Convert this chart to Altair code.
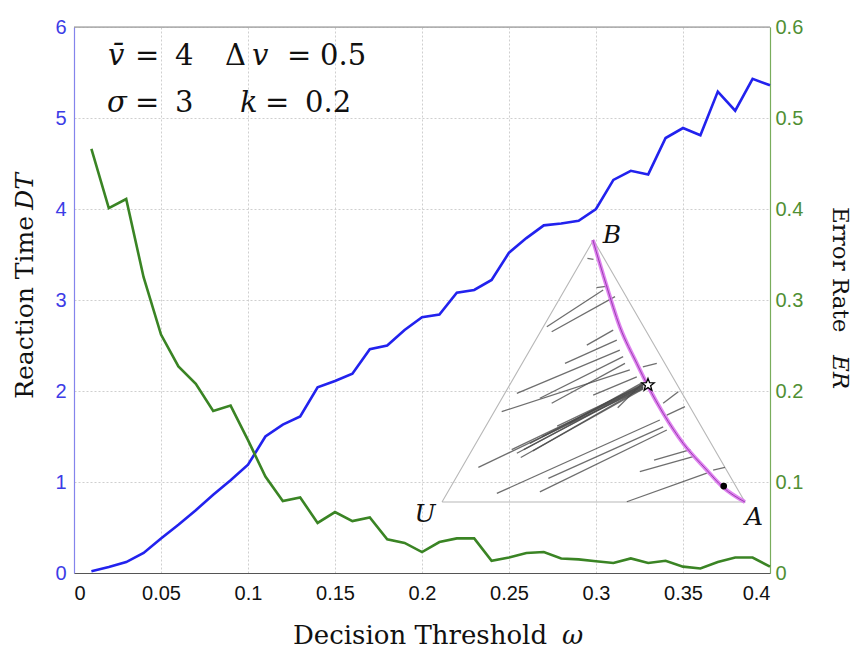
import altair as alt
import pandas as pd

# ---------------- main data ----------------
omega = [0.01, 0.02, 0.03, 0.04, 0.05, 0.06, 0.07, 0.08, 0.09, 0.10,
         0.11, 0.12, 0.13, 0.14, 0.15, 0.16, 0.17, 0.18, 0.19, 0.20,
         0.21, 0.22, 0.23, 0.24, 0.25, 0.26, 0.27, 0.28, 0.29, 0.30,
         0.31, 0.32, 0.33, 0.34, 0.35, 0.36, 0.37, 0.38, 0.39, 0.40]
reaction_time = [0.02, 0.066, 0.12, 0.22, 0.38, 0.53, 0.69, 0.86, 1.02, 1.19,
                 1.50, 1.63, 1.72, 2.04, 2.11, 2.19, 2.46, 2.50, 2.67, 2.81,
                 2.84, 3.08, 3.11, 3.22, 3.52, 3.68, 3.82, 3.84, 3.87, 4.00,
                 4.32, 4.42, 4.38, 4.78, 4.89, 4.81, 5.29, 5.08, 5.43, 5.36]
error_rate = [0.466, 0.401, 0.411, 0.325, 0.262, 0.227, 0.208, 0.178, 0.184, 0.146,
              0.106, 0.079, 0.083, 0.055, 0.067, 0.057, 0.061, 0.037, 0.033, 0.023,
              0.034, 0.038, 0.038, 0.0135, 0.017, 0.022, 0.023, 0.016, 0.015, 0.013,
              0.011, 0.016, 0.011, 0.0135, 0.007, 0.005, 0.012, 0.017, 0.017, 0.007]

x_ticks = [0, 0.05, 0.1, 0.15, 0.2, 0.25, 0.3, 0.35, 0.4]
dt_ticks = [0, 1, 2, 3, 4, 5, 6]
er_ticks = [0, 0.1, 0.2, 0.3, 0.4, 0.5, 0.6]

# ---------------- inset (triangle-local coordinates: U=(0,0), A=(1,0), B=(0.5,1)) ----
tri_lx = [0.0, 1.0, 0.5, 0.0]
tri_ly = [0.0, 0.0, 1.0, 0.0]

curve_lx = [0.498, 0.544, 0.587, 0.643, 0.681, 0.730, 0.796, 0.874, 0.927, 1.0]
curve_ly = [1.0, 0.822, 0.669, 0.529, 0.440, 0.339, 0.224, 0.122, 0.057, 0.0]

traj_start_lx = [0.346, 0.362, 0.478, 0.406, 0.247, 0.323, 0.362, 0.197, 0.499, 0.247,
                 0.290, 0.120, 0.181, 0.323, 0.351, 0.653, 0.610, 0.270, 0.300, 0.420,
                 0.480, 0.510, 0.730, 0.742, 0.895, 0.663, 0.580, 0.700,
                 0.230, 0.260, 0.380, 0.330]
traj_start_ly = [0.669, 0.650, 0.599, 0.529, 0.415, 0.396, 0.377, 0.345, 0.408, 0.186,
                 0.224, 0.132, 0.033, 0.039, 0.090, 0.116, 0.001, 0.200, 0.195, 0.300,
                 0.930, 0.818, 0.377, 0.332, 0.122, 0.516, 0.360, 0.160,
                 0.200, 0.170, 0.290, 0.250]
traj_end_lx = [0.532, 0.571, 0.565, 0.577, 0.587, 0.598, 0.604, 0.620, 0.643, 0.664,
               0.664, 0.664, 0.719, 0.742, 0.730, 0.829, 0.874, 0.664, 0.664, 0.660,
               0.500, 0.548, 0.780, 0.802, 0.934, 0.709, 0.660, 0.820,
               0.664, 0.664, 0.664, 0.662]
traj_end_ly = [0.809, 0.784, 0.656, 0.618, 0.580, 0.555, 0.529, 0.504, 0.478, 0.440,
               0.447, 0.434, 0.313, 0.275, 0.287, 0.173, 0.110, 0.444, 0.437, 0.455,
               0.926, 0.824, 0.421, 0.364, 0.132, 0.529, 0.452, 0.200,
               0.440, 0.432, 0.446, 0.450]

star_l = (0.680, 0.447)
dot_l = (0.930, 0.061)
vertex_labels = ["B", "U", "A"]
vertex_label_lx = [0.561, -0.056, 1.030]
vertex_label_ly = [1.019, -0.045, -0.058]

STAR_PATH = ("M0,-1L0.247,-0.34L0.951,-0.309L0.4,0.13L0.588,0.809L0,0.42"
             "L-0.588,0.809L-0.4,0.13L-0.951,-0.309L-0.247,-0.34Z")

# where the inset triangle sits in the main chart's data coordinates
TRI_X0, TRI_W, TRI_Y0, TRI_H = 0.2115, 0.1741, 0.78, 2.879


def px(lx):
    return TRI_X0 + lx * TRI_W


def py(ly):
    return TRI_Y0 + ly * TRI_H


main_df = pd.DataFrame({"omega": omega, "DT": reaction_time, "ER": error_rate})
tri_df = pd.DataFrame({"x": [px(v) for v in tri_lx], "y": [py(v) for v in tri_ly],
                       "i": list(range(len(tri_lx)))})
curve_df = pd.DataFrame({"x": [px(v) for v in curve_lx], "y": [py(v) for v in curve_ly],
                         "i": list(range(len(curve_lx)))})
rows = []
for k in range(len(traj_start_lx)):
    rows.append({"id": k, "i": 0, "x": px(traj_start_lx[k]), "y": py(traj_start_ly[k])})
    rows.append({"id": k, "i": 1, "x": px(traj_end_lx[k]), "y": py(traj_end_ly[k])})
traj_df = pd.DataFrame(rows)
star_df = pd.DataFrame({"x": [px(star_l[0])], "y": [py(star_l[1])]})
dot_df = pd.DataFrame({"x": [px(dot_l[0])], "y": [py(dot_l[1])]})
vlab_df = pd.DataFrame({"t": vertex_labels, "x": [px(v) for v in vertex_label_lx],
                        "y": [py(v) for v in vertex_label_ly]})

BLUE = "#2222ee"
BLUE_LBL = "#3c3ce6"
GREEN = "#3a8424"
GREEN_LBL = "#4f8f34"
SERIF = "DejaVu Serif"
SANS = "Liberation Sans"

xscale = alt.Scale(domain=[0, 0.4], nice=False, zero=False)


def yscale():
    return alt.Scale(domain=[0, 6], nice=False)


def x_axis():
    return alt.Axis(values=x_ticks, format="~g", title=None, grid=True, ticks=False,
                    labelFont=SANS, labelFontSize=20, labelColor="#111", labelPadding=10,
                    domainColor="#555", domainWidth=1.2, gridColor="#cfcfcf",
                    gridDash=[2, 2])


blue = alt.Chart(main_df).mark_line(color=BLUE, strokeWidth=2.6).encode(
    x=alt.X("omega:Q", scale=xscale, axis=x_axis()),
    y=alt.Y("DT:Q", scale=yscale(),
            axis=alt.Axis(values=dt_ticks, format="d", title=None, grid=True, ticks=False,
                          orient="left", labelFont=SANS, labelFontSize=20,
                          labelColor=BLUE_LBL, labelPadding=8, domainColor="#8484ec",
                          domainWidth=1.2, gridColor="#cfcfcf", gridDash=[2, 2])),
)

green = alt.Chart(main_df).mark_line(color=GREEN, strokeWidth=2.6).encode(
    x=alt.X("omega:Q", scale=xscale, axis=x_axis()),
    y=alt.Y("ER:Q", scale=alt.Scale(domain=[0, 0.6], nice=False),
            axis=alt.Axis(values=er_ticks, format="~g", title=None, grid=False, ticks=False,
                          orient="right", labelFont=SANS, labelFontSize=20,
                          labelColor=GREEN_LBL, labelPadding=5, domainColor="#79ad5c",
                          domainWidth=1.2)),
)


def ix():
    return alt.X("x:Q", scale=xscale, axis=x_axis())


def iy():
    return alt.Y("y:Q", scale=yscale(), axis=None)


tri = alt.Chart(tri_df).mark_line(color="#b8b8b8", strokeWidth=1.1).encode(
    x=ix(), y=iy(), order="i:Q")
traj = alt.Chart(traj_df).mark_line(color="#4a4a4a", strokeWidth=1.3, opacity=0.8).encode(
    x=ix(), y=iy(), detail="id:N", order="i:Q")
curve_wide = alt.Chart(curve_df).mark_line(color="#dd77ee", strokeWidth=4, opacity=0.9,
                                           interpolate="monotone").encode(
    x=ix(), y=iy(), order="i:Q")
curve_thin = alt.Chart(curve_df).mark_line(color="#9a3fb0", strokeWidth=1,
                                           interpolate="monotone").encode(
    x=ix(), y=iy(), order="i:Q")
star = alt.Chart(star_df).mark_point(shape=STAR_PATH, size=170, filled=True, fill="white",
                                     stroke="black", strokeWidth=1.3, opacity=1).encode(
    x=ix(), y=iy())
dot = alt.Chart(dot_df).mark_point(shape="circle", size=45, filled=True, color="black",
                                   opacity=1).encode(x=ix(), y=iy())
vlab = alt.Chart(vlab_df).mark_text(font=SERIF, fontSize=25, fontStyle="italic",
                                    color="#111").encode(x=ix(), y=iy(), text="t:N")

one = pd.DataFrame({"a": [0]})

# top frame line of the plot box
top_border = alt.Chart(one).mark_rule(color="#8a8a8a", strokeWidth=1.2).encode(
    x=alt.value(0), x2=alt.value(696), y=alt.value(0))


def txt(s, x, y, size=29, italic=False, angle=0, align="left", baseline="alphabetic",
        color="#111"):
    kw = dict(font=SERIF, fontSize=size, align=align, baseline=baseline, color=color,
              angle=angle)
    if italic:
        kw["fontStyle"] = "italic"
    return alt.Chart(one).mark_text(**kw).encode(
        x=alt.value(x), y=alt.value(y), text=alt.value(s))


annot = [
    txt("v̄", 34, 38, italic=True), txt("=", 61, 38), txt("4", 101, 38),
    txt("Δ", 151, 38), txt("v", 178, 38, italic=True), txt("=", 213, 38),
    txt("0.5", 246, 38),
    txt("σ", 33, 85, italic=True), txt("=", 61, 85), txt("3", 101, 85),
    txt("k", 166, 85, italic=True), txt("=", 191, 85), txt("0.2", 231, 85),
    # axis titles
    txt("Reaction Time", -49, 189, size=25, angle=270, align="right", baseline="middle"),
    txt("DT", -49, 146, size=25, italic=True, angle=270, align="right", baseline="middle"),
    txt("Error Rate", 766, 180, size=23, angle=90, align="left", baseline="middle"),
    txt("ER", 766, 328, size=23, italic=True, angle=90, align="left", baseline="middle"),
    txt("Decision Threshold", 219, 617, size=26),
    txt("ω", 488, 617, size=26, italic=True),
]

chart = alt.layer(blue, green, tri, traj, curve_wide, curve_thin, star, dot, vlab,
                  top_border, *annot).resolve_scale(y="independent").properties(
    width=696, height=546,
    padding={"left": 66, "top": 19, "right": 87, "bottom": 78},
    autosize=alt.AutoSizeParams(type="none"),
).configure_view(strokeWidth=0).configure(background="white")

chart.save("out.html", embed_options={"renderer": "svg", "actions": False})
